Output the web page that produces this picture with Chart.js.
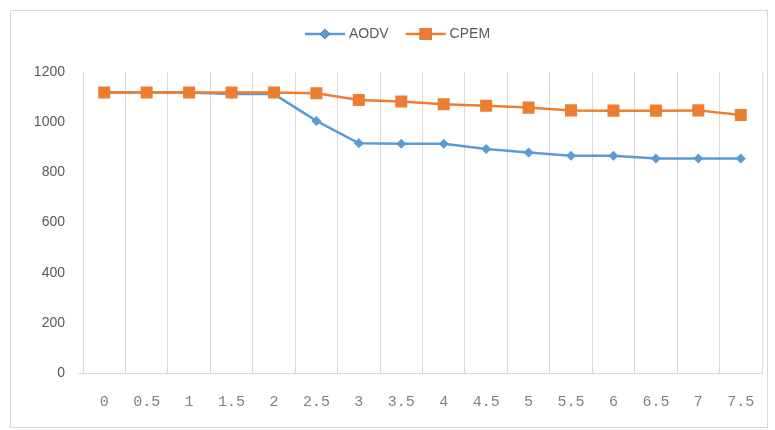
<!DOCTYPE html>
<html>
<head>
<meta charset="utf-8">
<script src="https://cdn.jsdelivr.net/npm/chart.js@4/dist/chart.umd.min.js"></script>
<style>
  html, body { margin: 0; padding: 0; background: #ffffff; }
  #wrap { position: relative; width: 775px; height: 430px; }
</style>
</head>
<body>
<div id="wrap"><canvas id="c" width="775" height="430"></canvas></div>
<script>
// Categories (x axis) and series values
const categories = ['0', '0.5', '1', '1.5', '2', '2.5', '3', '3.5', '4', '4.5', '5', '5.5', '6', '6.5', '7', '7.5'];
const aodvValues = [1118, 1118, 1118, 1112, 1112, 1005, 916, 914, 914, 893, 879, 866, 866, 855, 855, 855];
const cpemValues = [1118, 1118, 1118, 1118, 1118, 1115, 1088, 1082, 1071, 1065, 1058, 1047, 1046, 1046, 1047, 1029];
const yTicks = [0, 200, 400, 600, 800, 1000, 1200];

const BLUE = '#5B9BD5';
const ORANGE = '#ED7D31';
const GRID = '#d9d9d9';
const TEXT = '#595959';

// Outer frame around the whole chart
const framePlugin = {
  id: 'frame',
  beforeDraw(chart) {
    const ctx = chart.ctx;
    ctx.save();
    ctx.fillStyle = '#ffffff';
    ctx.fillRect(0, 0, chart.width, chart.height);
    ctx.strokeStyle = GRID;
    ctx.lineWidth = 1;
    ctx.strokeRect(10.5, 10.5, 757, 417);
    ctx.restore();
  }
};

// Legend: a short line with the series marker, then the series name
const lineLegendPlugin = {
  id: 'lineLegend',
  afterDraw(chart) {
    const ctx = chart.ctx;
    const y = 34;
    const lineLen = 40;
    const gapText = 4;
    const gapItem = 17;
    ctx.save();
    ctx.font = '14px "Liberation Sans", Arial, sans-serif';
    ctx.textBaseline = 'middle';
    const items = chart.data.datasets.map(ds => ({
      ds, w: lineLen + gapText + ctx.measureText(ds.label).width
    }));
    const total = items.reduce((s, it) => s + it.w, 0) + gapItem * (items.length - 1);
    let x = 397.5 - total / 2;
    items.forEach(({ ds }) => {
      ctx.strokeStyle = ds.borderColor;
      ctx.lineWidth = ds.borderWidth;
      ctx.beginPath();
      ctx.moveTo(x, y);
      ctx.lineTo(x + lineLen, y);
      ctx.stroke();
      Chart.helpers.drawPoint(ctx, {
        pointStyle: ds.pointStyle,
        radius: ds.pointRadius,
        borderWidth: 0,
        rotation: 0
      }, x + lineLen / 2, y);
      ctx.fillStyle = ds.pointBackgroundColor;
      ctx.fill();
      ctx.fillStyle = TEXT;
      ctx.textAlign = 'left';
      ctx.fillText(ds.label, x + lineLen + gapText, y);
      x += lineLen + gapText + ctx.measureText(ds.label).width + gapItem;
    });
    ctx.restore();
  }
};

new Chart(document.getElementById('c'), {
  type: 'line',
  data: {
    labels: categories,
    datasets: [
      {
        label: 'AODV',
        data: aodvValues,
        borderColor: BLUE,
        backgroundColor: BLUE,
        pointBackgroundColor: BLUE,
        pointBorderColor: BLUE,
        pointBorderWidth: 0,
        pointStyle: 'rectRot',
        pointRadius: 5,
        borderWidth: 2.5,
        tension: 0,
        order: 1
      },
      {
        label: 'CPEM',
        data: cpemValues,
        borderColor: ORANGE,
        backgroundColor: ORANGE,
        pointBackgroundColor: ORANGE,
        pointBorderColor: ORANGE,
        pointBorderWidth: 0,
        pointStyle: 'rect',
        pointRadius: 8.5,
        borderWidth: 2.5,
        tension: 0,
        order: 0
      }
    ]
  },
  options: {
    responsive: false,
    animation: false,
    devicePixelRatio: 1,
    layout: { padding: { top: 72, left: 0, right: 13, bottom: 0 } },
    plugins: {
      legend: { display: false },
      tooltip: { enabled: false }
    },
    scales: {
      x: {
        type: 'category',
        offset: true,
        grid: {
          display: true,
          offset: true,
          color: GRID,
          lineWidth: 1,
          drawTicks: false
        },
        border: { display: true, color: GRID, width: 1 },
        ticks: {
          color: '#7f7f7f',
          font: { family: '"Liberation Mono", "DejaVu Sans Mono", monospace', size: 15 },
          padding: 20,
          maxRotation: 0,
          autoSkip: false
        },
        afterFit(scale) { scale.height = 57; }
      },
      y: {
        min: 0,
        max: 1200,
        afterBuildTicks(scale) { scale.ticks = yTicks.map(v => ({ value: v })); },
        grid: {
          display: true,
          drawOnChartArea: false,
          drawTicks: true,
          tickLength: 5,
          color: ctx => (ctx.tick && ctx.tick.value === 0 ? GRID : 'rgba(0,0,0,0)')
        },
        border: { display: false },
        ticks: {
          color: TEXT,
          font: { family: '"Liberation Sans", Arial, sans-serif', size: 14 },
          padding: 13,
          callback: value => String(value)
        },
        afterFit(scale) { scale.width = 83; }
      }
    }
  },
  plugins: [framePlugin, lineLegendPlugin]
});
</script>
</body>
</html>
